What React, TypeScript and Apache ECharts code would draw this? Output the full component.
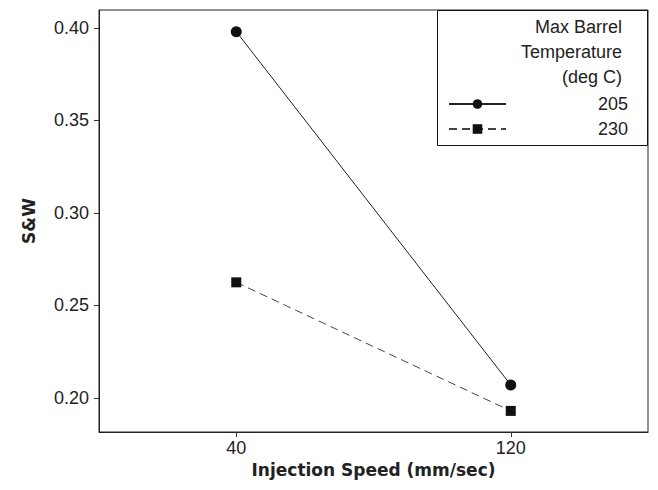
import React, { useEffect, useRef } from "react";
import * as echarts from "echarts";

const speeds = [40, 120];
const xTickValues = [40, 120];
const yTickValues = [0.2, 0.25, 0.3, 0.35, 0.4];
const series205 = [0.398, 0.207];
const series230 = [0.2625, 0.193];
const legendTitle = ["Max Barrel", "Temperature", "(deg C)"];
const seriesNames = ["205", "230"];

export default function App() {
  const ref = useRef<HTMLDivElement>(null);
  useEffect(() => {
    document.body.style.margin = "0";
    const chart = echarts.init(ref.current!, null, { renderer: "svg" });
    const font = "Liberation Sans";
    const titleFont = "DejaVu Sans";
    const textColor = "#222";
    const toPairs = (vals: number[]) => speeds.map((s, i) => [s, vals[i]]);
    chart.setOption({
      animation: false,
      backgroundColor: "#fff",
      grid: {
        left: 99,
        right: 10,
        top: 10,
        bottom: 58,
        show: true,
        borderColor: "#222",
        borderWidth: 1,
        backgroundColor: "#fff",
      },
      xAxis: {
        type: "value",
        min: 0,
        max: 160,
        name: "Injection Speed (mm/sec)",
        nameLocation: "middle",
        nameGap: 27,
        nameTextStyle: { fontFamily: titleFont, fontWeight: "bold", fontSize: 17, color: textColor },
        splitLine: { show: false },
        axisLine: { show: true, lineStyle: { color: "#222" } },
        axisTick: { show: true, customValues: xTickValues, length: 5, lineStyle: { color: "#333" } },
        axisLabel: { customValues: xTickValues, margin: 7, fontFamily: font, fontSize: 18, color: textColor },
      },
      yAxis: {
        type: "value",
        min: 0.1816,
        max: 0.4097,
        name: "S&W",
        nameLocation: "middle",
        nameGap: 62,
        nameTextStyle: { fontFamily: titleFont, fontWeight: "bold", fontSize: 17, color: textColor },
        splitLine: { show: false },
        axisLine: { show: true, lineStyle: { color: "#222" } },
        axisTick: { show: true, customValues: yTickValues, length: 5, lineStyle: { color: "#333" } },
        axisLabel: {
          customValues: yTickValues,
          margin: 10,
          fontFamily: font,
          fontSize: 18,
          color: textColor,
          formatter: (v: number) => v.toFixed(2),
        },
      },
      legend: {
        left: 443,
        top: 90,
        orient: "vertical",
        itemWidth: 57,
        itemHeight: 12,
        itemGap: 7,
        data: seriesNames,
        formatter: "{a|{name}}",
        textStyle: {
          fontFamily: font,
          fontSize: 18,
          lineHeight: 18,
          color: textColor,
          rich: { a: { width: 117, align: "right", fontFamily: font, fontSize: 18, lineHeight: 18, color: textColor } },
        },
        z: 10,
      },
      graphic: [
        {
          type: "rect",
          z: 5,
          shape: { x: 437.5, y: 10.5, width: 210, height: 135 },
          style: { fill: "#fff", stroke: "#111", lineWidth: 1 },
        },
        ...legendTitle.map((t, i) => ({
          type: "text",
          z: 6,
          x: 622,
          y: 27 + i * 25,
          style: {
            text: t,
            align: "right",
            verticalAlign: "middle",
            fontFamily: font,
            fontSize: 18,
            fill: textColor,
          },
        })),
      ],
      series: [
        {
          name: seriesNames[0],
          type: "line",
          data: toPairs(series205),
          symbol: "circle",
          symbolSize: 11,
          itemStyle: { color: "#111" },
          lineStyle: { color: "#222", width: 1, type: "solid" },
        },
        {
          name: seriesNames[1],
          type: "line",
          data: toPairs(series230),
          symbol: "rect",
          symbolSize: 10,
          itemStyle: { color: "#111" },
          lineStyle: { color: "#444", width: 1, type: [8, 5] },
        },
      ],
    });
    return () => chart.dispose();
  }, []);
  return <div ref={ref} style={{ position: "fixed", left: 0, top: 0, width: 658, height: 490 }} />;
}
